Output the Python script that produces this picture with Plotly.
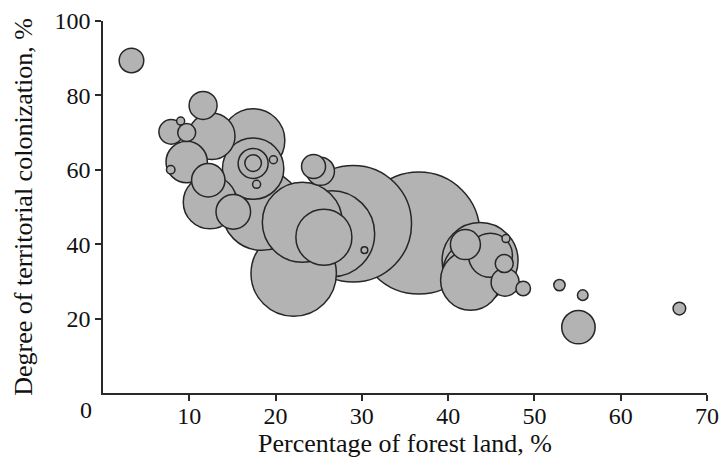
import plotly.graph_objects as go

# Data
forest_pct = [3.3, 7.9, 9.0, 9.7, 12.6, 11.6, 9.7, 7.85, 12.2, 12.4,
              15.1, 17.4, 17.4, 17.4, 17.4, 19.75, 17.8, 18.4, 23.1, 24.4,
              25.2, 29.0, 26.5, 25.6, 30.3, 22.1, 36.6, 42.0, 43.7, 42.6,
              43.1, 44.9, 46.7, 46.5, 46.6, 48.7, 52.9, 55.6, 55.1, 66.8]
colonization = [89.4, 70.2, 73.1, 70.0, 69.0, 77.3, 62.1, 60.0, 57.2, 51.3,
                48.7, 67.9, 60.3, 61.7, 61.8, 62.7, 56.1, 49.1, 45.9, 60.9,
                59.6, 45.5, 42.8, 41.9, 38.4, 32.1, 43.0, 39.9, 35.6, 30.3,
                32.4, 37.0, 41.5, 34.8, 29.8, 28.1, 29.0, 26.3, 17.7, 22.7]
magnitude = [15.1, 15.1, 1.6, 8.1, 54.3, 19.6, 42.8, 1.8, 27.9, 71.3,
             29.9, 100.5, 94.2, 22.5, 6.9, 1.6, 1.6, 160, 160, 14.4,
             19.6, 339.9, 185, 78.4, 1.1, 182.3, 372.1, 22.5, 144.4, 90,
             102.4, 48.4, 1.6, 8.1, 19.6, 5.3, 3.2, 2.8, 27.9, 4.0]

x_ticks = [10, 20, 30, 40, 50, 60, 70]
y_ticks = [20, 40, 60, 80, 100]

# draw larger bubbles first so small ones sit on top
order = sorted(range(len(magnitude)), key=lambda i: -magnitude[i])
xs = [forest_pct[i] for i in order]
ys = [colonization[i] for i in order]
ms = [magnitude[i] for i in order]

FONT = "Liberation Serif"
AX = "#2a2a2a"

fig = go.Figure(go.Scatter(
    x=xs, y=ys, mode="markers",
    marker=dict(size=ms, sizemode="area", sizeref=0.05,
                color="#b3b3b3", opacity=1,
                line=dict(color="#262626", width=1.5)),
    hoverinfo="x+y", cliponaxis=False,
))

fig.update_layout(
    width=722, height=464,
    margin=dict(l=103, r=15, t=21, b=71),
    paper_bgcolor="white", plot_bgcolor="white",
    showlegend=False,
    font=dict(family=FONT, color="#111", size=24),
)
fig.update_xaxes(
    range=[0, 70], tickvals=x_ticks, ticktext=[str(v) for v in x_ticks],
    automargin=False,
    showgrid=False, zeroline=False, showline=True, linecolor=AX, linewidth=1.5,
    ticks="outside", ticklen=6, tickwidth=1.5, tickcolor=AX,
    ticklabelstandoff=-6,
    tickfont=dict(family=FONT, size=24, color="#111"),
    title=dict(text="Percentage of forest land, %", standoff=0,
               font=dict(family=FONT, size=26, color="#111")),
)
fig.update_yaxes(
    range=[0, 100], tickvals=y_ticks, ticktext=[str(v) for v in y_ticks],
    automargin=False,
    showgrid=False, zeroline=False, showline=True, linecolor=AX, linewidth=1.5,
    ticks="outside", ticklen=6, tickwidth=1.5, tickcolor=AX,
    tickfont=dict(family=FONT, size=24, color="#111"),
    title=dict(text="Degree of territorial colonization, %", standoff=14,
               font=dict(family=FONT, size=26, color="#111")),
)
fig.add_annotation(text="0", xref="paper", yref="paper", x=-0.028, y=-0.045,
                   xanchor="center", yanchor="middle",
                   showarrow=False, font=dict(family=FONT, size=24, color="#111"))

fig.write_html("out.html", config={"displayModeBar": False},
               post_script="document.body.style.margin='0';document.body.style.overflow='hidden';")
